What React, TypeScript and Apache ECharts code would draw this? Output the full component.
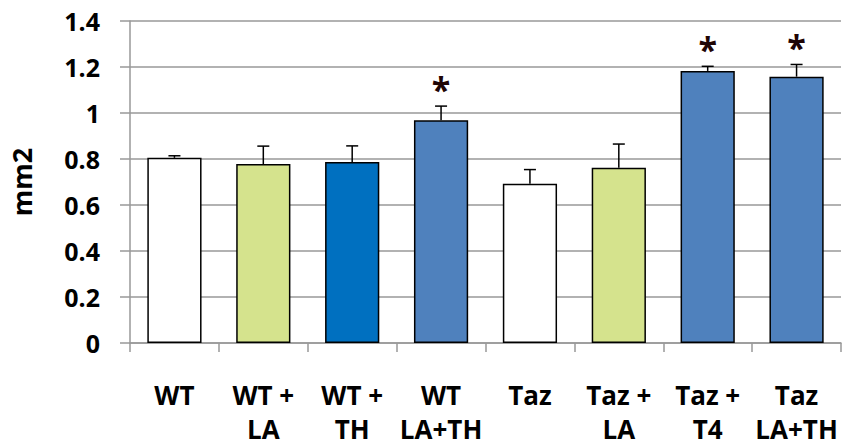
import React, { useEffect, useRef } from "react";
import * as echarts from "echarts";

// Groups along the x axis (two-line labels)
const categories = [
  "WT",
  "WT +\nLA",
  "WT +\nTH",
  "WT\nLA+TH",
  "Taz",
  "Taz +\nLA",
  "Taz +\nT4",
  "Taz\nLA+TH",
];

// Mean area per group (mm2) and upper error (SEM)
const means = [0.805, 0.778, 0.787, 0.968, 0.692, 0.762, 1.183, 1.158];
const errors = [0.009, 0.078, 0.07, 0.062, 0.062, 0.103, 0.02, 0.053];

// Groups marked as significantly different
const significant = [false, false, false, true, false, false, true, true];

// Bar fills
const fills = ["#ffffff", "#d5e38d", "#0070c0", "#4f81bd", "#ffffff", "#d5e38d", "#4f81bd", "#4f81bd"];

// y-axis ticks
const yMin = 0;
const yMax = 1.4;
const yStep = 0.2;

const FONT = "'Open Sans', 'Liberation Sans', sans-serif";
const GRID_GRAY = "#999999";

const labelFont = { color: "#000000", fontFamily: FONT, fontWeight: "bold" as const, fontSize: 26 };

export default function App() {
  const ref = useRef<HTMLDivElement>(null);

  useEffect(() => {
    if (!ref.current) return;
    const chart = echarts.init(ref.current, undefined, { renderer: "svg" });

    const option: any = {
      animation: false,
      backgroundColor: "#ffffff",
      grid: {
        left: 130,
        right: 1,
        top: 21,
        bottom: 105,
        containLabel: false,
        outerBoundsMode: "none",
      },
      xAxis: {
        type: "category",
        data: categories,
        boundaryGap: true,
        axisLine: { show: true, lineStyle: { color: GRID_GRAY, width: 1.5 } },
        axisTick: { show: true, length: 9, lineStyle: { color: GRID_GRAY, width: 1.5 } },
        axisLabel: {
          interval: 0,
          margin: 31,
          ...labelFont,
          formatter: (val: string) => {
            const [first, second] = val.split("\n");
            return second ? `{a|${first}}\n{b|${second}}` : `{a|${first}}`;
          },
          rich: {
            a: { ...labelFont, lineHeight: 42 },
            b: { ...labelFont, lineHeight: 26 },
          },
        },
      },
      yAxis: {
        type: "value",
        min: yMin,
        max: yMax,
        interval: yStep,
        name: "mm2",
        nameLocation: "middle",
        nameRotate: 90,
        nameGap: 95,
        nameTextStyle: { color: "#000000", fontFamily: FONT, fontWeight: "bold", fontSize: 27 },
        axisLine: { show: true, lineStyle: { color: GRID_GRAY, width: 1.5 } },
        axisTick: { show: true, inside: false, length: 10, lineStyle: { color: GRID_GRAY, width: 1.5 } },
        splitLine: { show: true, lineStyle: { color: GRID_GRAY, width: 1.5 } },
        axisLabel: {
          margin: 30,
          color: "#000000",
          fontFamily: FONT,
          fontWeight: "bold",
          fontSize: 25,
        },
      },
      series: [
        {
          type: "bar",
          barWidth: "61%",
          data: means.map((v, i) => ({
            value: v,
            itemStyle: { color: fills[i], borderColor: "#000000", borderWidth: 1.5 },
          })),
          z: 2,
        },
        {
          type: "custom",
          z: 3,
          data: means.map((v, i) => [i, v, errors[i], significant[i] ? 1 : 0]),
          renderItem: (params: any, api: any) => {
            const idx = api.value(0);
            const v = api.value(1);
            const e = api.value(2);
            const star = api.value(3);
            const base = api.coord([idx, v]);
            const top = api.coord([idx, v + e]);
            const capHalf = 6;
            const lineStyle = { stroke: "#000000", lineWidth: 1.5 };
            const children: any[] = [
              { type: "line", shape: { x1: base[0], y1: base[1], x2: top[0], y2: top[1] }, style: lineStyle },
              {
                type: "line",
                shape: { x1: top[0] - capHalf, y1: top[1], x2: top[0] + capHalf, y2: top[1] },
                style: lineStyle,
              },
            ];
            if (star) {
              children.push({
                type: "text",
                x: top[0],
                y: top[1] - 17,
                style: {
                  text: "*",
                  fill: "#1f0505",
                  font: `bold 34px ${FONT}`,
                  textAlign: "center",
                  textVerticalAlign: "middle",
                },
              });
            }
            return { type: "group", children };
          },
        },
      ],
    };

    chart.setOption(option);
    return () => chart.dispose();
  }, []);

  return (
    <div
      ref={ref}
      style={{ position: "fixed", left: 0, top: 0, width: 842, height: 448, background: "#ffffff" }}
    />
  );
}
